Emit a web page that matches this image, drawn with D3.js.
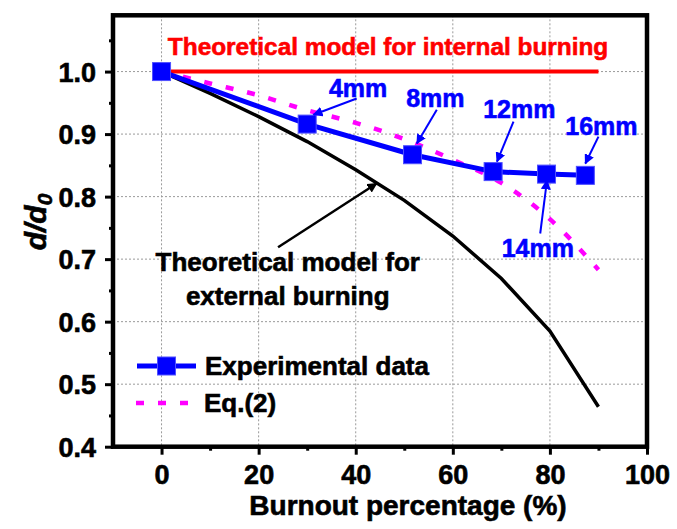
<!DOCTYPE html>
<html>
<head>
<meta charset="utf-8">
<script src="https://cdn.jsdelivr.net/npm/d3@7"></script>
<style>
  body { margin: 0; background: #fff; }
  svg { font-family: 'Liberation Sans', Arial, sans-serif; font-weight: bold; }
  text { stroke-width: 0.6; }
</style>
</head>
<body>
<div id="chart"></div>
<script>
// data
const burnout = [0, 30, 51.7, 68.3, 79.3, 87.3];
const experimental = [1.0, 0.916, 0.867, 0.84, 0.836, 0.834];
const sizeLabels = ['', '4mm', '8mm', '12mm', '14mm', '16mm'];

const curveX = [0, 10, 20, 30, 40, 50, 60, 70, 80, 90];
const external = [1.0, 0.965, 0.928, 0.888, 0.843, 0.794, 0.737, 0.669, 0.585, 0.464];
const eq2 = [1.0, 0.981, 0.962, 0.938, 0.918, 0.892, 0.859, 0.822, 0.764, 0.683];

const internalX = [0, 90];
const internal = [1.0, 1.0];

const xTicks = [0, 20, 40, 60, 80, 100];
const yTicks = [0.4, 0.5, 0.6, 0.7, 0.8, 0.9, 1.0];

const width = 677;
const height = 529;

const svg = d3.select('#chart').append('svg').attr('width', width).attr('height', height);

const xScale = d3.scaleLinear().domain([-10, 100]).range([113, 647]);
const yScale = d3.scaleLinear().domain([0.4, 1.09]).range([446.7, 15.3]);

const blue = '#0000ff';
const magenta = '#ff00ff';

// grid
svg.append('g').selectAll('line').data(xTicks.filter((d) => d < 100)).join('line')
  .attr('x1', (d) => xScale(d)).attr('x2', (d) => xScale(d))
  .attr('y1', yScale.range()[1]).attr('y2', yScale.range()[0])
  .attr('stroke', '#9a9a9a').attr('stroke-width', 1).attr('stroke-dasharray', '2,2');
svg.append('g').selectAll('line').data(yTicks.filter((d) => d > 0.4)).join('line')
  .attr('x1', xScale.range()[0]).attr('x2', xScale.range()[1])
  .attr('y1', (d) => yScale(d)).attr('y2', (d) => yScale(d))
  .attr('stroke', '#9a9a9a').attr('stroke-width', 1).attr('stroke-dasharray', '2,2');

// axes with major + minor ticks
const xAxis = svg.append('g').attr('transform', `translate(0,${yScale.range()[0]})`)
  .call(d3.axisBottom(xScale).tickValues(xTicks).tickSize(8).tickFormat(d3.format('d')));
svg.append('g').attr('transform', `translate(0,${yScale.range()[0]})`)
  .call(d3.axisBottom(xScale).tickValues([10, 30, 50, 70, 90]).tickSize(4).tickFormat(''));
const yAxis = svg.append('g').attr('transform', `translate(${xScale.range()[0]},0)`)
  .call(d3.axisLeft(yScale).tickValues(yTicks).tickSize(8).tickFormat(d3.format('.1f')));
svg.append('g').attr('transform', `translate(${xScale.range()[0]},0)`)
  .call(d3.axisLeft(yScale).tickValues([0.45, 0.55, 0.65, 0.75, 0.85, 0.95, 1.05]).tickSize(4).tickFormat(''));

svg.selectAll('.domain').remove();
svg.selectAll('.tick line').attr('stroke', '#000').attr('stroke-width', 3);
xAxis.selectAll('.tick text').attr('font-size', 27).attr('font-weight', 'bold').attr('fill', '#000').attr('stroke', '#000')
  .attr('font-family', "'Liberation Sans', Arial, sans-serif").attr('dy', null).attr('y', 37);
yAxis.selectAll('.tick text').attr('font-size', 27).attr('font-weight', 'bold').attr('fill', '#000').attr('stroke', '#000')
  .attr('font-family', "'Liberation Sans', Arial, sans-serif").attr('x', -17).attr('dy', '0.36em');

// internal burning (red)
const line = d3.line().x((d) => xScale(d[0])).y((d) => yScale(d[1]));
svg.append('path').datum(d3.zip(internalX, internal)).attr('d', line)
  .attr('fill', 'none').attr('stroke', '#ff0000').attr('stroke-width', 4);

// external burning (black)
svg.append('path').datum(d3.zip(curveX, external)).attr('d', line)
  .attr('fill', 'none').attr('stroke', '#000').attr('stroke-width', 3.5);

// Eq.(2)
const smooth = d3.line().x((d) => xScale(d[0])).y((d) => yScale(d[1])).curve(d3.curveMonotoneX);
svg.append('path').datum(d3.zip(curveX, eq2)).attr('d', smooth)
  .attr('fill', 'none').attr('stroke', magenta).attr('stroke-width', 4.5).attr('stroke-dasharray', '8,14');

// experimental
svg.append('path').datum(d3.zip(burnout, experimental)).attr('d', line)
  .attr('fill', 'none').attr('stroke', blue).attr('stroke-width', 5);
svg.append('g').selectAll('rect').data(d3.zip(burnout, experimental)).join('rect')
  .attr('x', (d) => xScale(d[0]) - 9).attr('y', (d) => yScale(d[1]) - 9)
  .attr('width', 18).attr('height', 18)
  .attr('fill', blue).attr('stroke', '#5050ff').attr('stroke-width', 1);

// arrow heads
const defs = svg.append('defs');
[['arrowBlue', blue], ['arrowBlack', '#000']].forEach(([id, c]) => {
  defs.append('marker').attr('id', id).attr('viewBox', '0 0 10 10')
    .attr('refX', 9).attr('refY', 5).attr('markerWidth', 10).attr('markerHeight', 10)
    .attr('markerUnits', 'userSpaceOnUse').attr('orient', 'auto')
    .append('path').attr('d', 'M0,0 L10,5 L0,10 Z').attr('fill', c);
});

// size labels: text anchor (center, baseline) and arrow from/to, in data units
const labelPos = [null, [40.5, 0.96], [56.4, 0.944], [73.7, 0.925], [77.5, 0.704], [90.6, 0.899]];
const arrowFrom = [null, [40.2, 0.957], [56.7, 0.939], [72.5, 0.92], [78.0, 0.741], [90.0, 0.896]];
const arrowTo = [null, [31.3, 0.931], [52.6, 0.885], [69.1, 0.856], [79.4, 0.826], [87.3, 0.853]];

sizeLabels.forEach((lab, i) => {
  if (!lab) return;
  svg.append('line')
    .attr('x1', xScale(arrowFrom[i][0])).attr('y1', yScale(arrowFrom[i][1]))
    .attr('x2', xScale(arrowTo[i][0])).attr('y2', yScale(arrowTo[i][1]))
    .attr('stroke', blue).attr('stroke-width', 2).attr('marker-end', 'url(#arrowBlue)');
  svg.append('text').attr('x', xScale(labelPos[i][0])).attr('y', yScale(labelPos[i][1]))
    .attr('text-anchor', 'middle').attr('font-size', 25).attr('fill', blue).attr('stroke', blue).text(lab);
});

// red annotation
svg.append('text').attr('x', xScale(1.3)).attr('y', yScale(1.027))
  .attr('font-size', 24.4).attr('fill', '#ff0000').attr('stroke', '#ff0000').text('Theoretical model for internal burning');

// black annotation
svg.append('line').attr('x1', xScale(24.0)).attr('y1', yScale(0.719))
  .attr('x2', xScale(44.3)).attr('y2', yScale(0.821))
  .attr('stroke', '#000').attr('stroke-width', 2.5).attr('marker-end', 'url(#arrowBlack)');
const extText = svg.append('text').attr('text-anchor', 'middle').attr('font-size', 26).attr('fill', '#000').attr('stroke', '#000');
extText.append('tspan').attr('x', xScale(26)).attr('y', yScale(0.681)).text('Theoretical model for');
extText.append('tspan').attr('x', xScale(26)).attr('y', yScale(0.627)).text('external burning');

// legend
const legend = svg.append('g');
legend.append('line').attr('x1', 137).attr('x2', 196).attr('y1', 366).attr('y2', 366)
  .attr('stroke', blue).attr('stroke-width', 5);
legend.append('rect').attr('x', 157.5).attr('y', 357).attr('width', 18).attr('height', 18)
  .attr('fill', blue).attr('stroke', '#5050ff').attr('stroke-width', 1);
legend.append('text').attr('x', 205).attr('y', 375).attr('font-size', 26).attr('fill', '#000').attr('stroke', '#000').text('Experimental data');
legend.append('line').attr('x1', 136).attr('x2', 190).attr('y1', 403).attr('y2', 403)
  .attr('stroke', magenta).attr('stroke-width', 4.5).attr('stroke-dasharray', '8,14');
legend.append('text').attr('x', 204).attr('y', 412).attr('font-size', 26).attr('fill', '#000').attr('stroke', '#000').text('Eq.(2)');

// frame
svg.append('rect').attr('x', xScale.range()[0]).attr('y', yScale.range()[1])
  .attr('width', xScale.range()[1] - xScale.range()[0])
  .attr('height', yScale.range()[0] - yScale.range()[1])
  .attr('fill', 'none').attr('stroke', '#000').attr('stroke-width', 4.5);

// axis titles
svg.append('text').attr('x', 408).attr('y', 515).attr('text-anchor', 'middle')
  .attr('font-size', 28).attr('fill', '#000').attr('stroke', '#000').text('Burnout percentage (%)');
const yTitle = svg.append('text').attr('transform', 'translate(46,222) rotate(-90)')
  .attr('text-anchor', 'middle').attr('font-size', 30).attr('font-style', 'italic').attr('fill', '#000').attr('stroke', '#000');
yTitle.append('tspan').text('d/d');
yTitle.append('tspan').attr('font-size', 21).attr('dy', 6).text('0');
</script>
</body>
</html>
